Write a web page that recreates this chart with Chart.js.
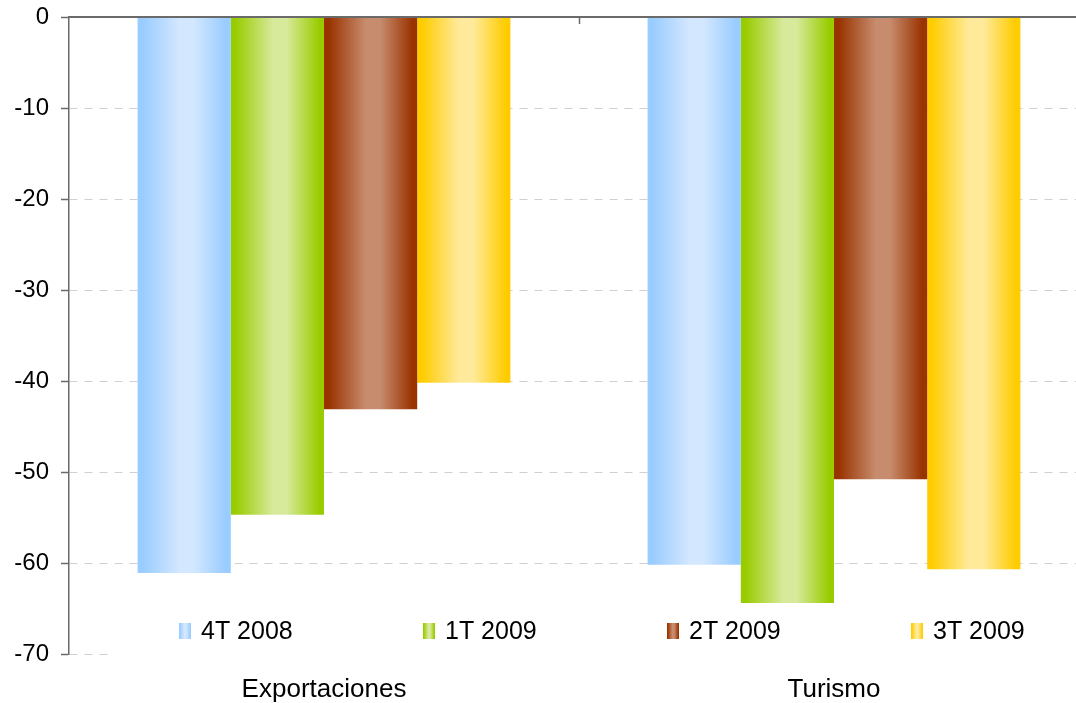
<!DOCTYPE html>
<html>
<head>
<meta charset="utf-8">
<script src="https://cdn.jsdelivr.net/npm/chart.js@4/dist/chart.umd.min.js"></script>
<style>
  html, body { margin: 0; padding: 0; background: #fff; overflow: hidden; width: 1076px; height: 703px; }
  #wrap { width: 1090px; height: 703px; position: relative; }
</style>
</head>
<body>
<div id="wrap"><canvas id="c"></canvas></div>
<script>
// Variación interanual (%) por trimestre
const categories = ['Exportaciones', 'Turismo'];
const seriesNames = ['4T 2008', '1T 2009', '2T 2009', '3T 2009'];
const q4_2008 = [-61.1, -60.2];
const q1_2009 = [-54.7, -64.4];
const q2_2009 = [-43.1, -50.8];
const q3_2009 = [-40.2, -60.7];
const yTicks = [0, -10, -20, -30, -40, -50, -60, -70];

const FONT = "'Liberation Sans', Arial, sans-serif";

// edge / highlight colours for the cylinder-like shading
const palettes = [
  { edge: '#99CCFF', light: '#D3E7FF' },
  { edge: '#99CC00', light: '#D7E99A' },
  { edge: '#993300', light: '#C78C6E' },
  { edge: '#FFCC00', light: '#FFEA9C' }
];

function shade(ctx, x0, x1, pal) {
  const g = ctx.createLinearGradient(x0, 0, x1, 0);
  g.addColorStop(0, pal.edge);
  g.addColorStop(0.05, pal.edge);
  g.addColorStop(0.45, pal.light);
  g.addColorStop(0.6, pal.light);
  g.addColorStop(0.95, pal.edge);
  g.addColorStop(1, pal.edge);
  return g;
}

const seriesValues = [q4_2008, q1_2009, q2_2009, q3_2009];

const datasets = seriesValues.map((vals, i) => ({
  label: seriesNames[i],
  data: vals,
  backgroundColor: palettes[i].edge,
  borderWidth: 0,
  categoryPercentage: 0.731,
  barPercentage: 1.0
}));

// gradient fill computed from each bar's own geometry
const shadingPlugin = {
  id: 'shading',
  beforeDatasetsDraw(chart) {
    const ctx = chart.ctx;
    const ca = chart.chartArea;
    const ys = chart.scales.y;
    // legend panel sits over the lower grid lines
    const panelTop = ys.getPixelForValue(-70) - 47;
    ctx.save();
    ctx.fillStyle = '#ffffff';
    ctx.fillRect(ca.left + 39, panelTop, chart.width - ca.left - 39, 56);
    ctx.restore();

    chart.data.datasets.forEach((ds, di) => {
      const meta = chart.getDatasetMeta(di);
      meta.data.forEach(el => {
        const x0 = el.x - el.width / 2;
        const x1 = el.x + el.width / 2;
        el.options = Object.assign({}, el.options, {
          backgroundColor: shade(ctx, x0, x1, palettes[di])
        });
      });
    });
  },
  afterDatasetsDraw(chart) {
    const ctx = chart.ctx;
    const ca = chart.chartArea;
    const xs = chart.scales.x;
    const ys = chart.scales.y;
    const y0 = ys.getPixelForValue(0);

    // zero line
    ctx.save();
    ctx.strokeStyle = '#6a6a6a';
    ctx.lineWidth = 2;
    ctx.beginPath();
    ctx.moveTo(ca.left, y0);
    ctx.lineTo(chart.width, y0);
    ctx.stroke();

    // category divider tick
    const xb = Math.round((xs.getPixelForTick(0) + xs.getPixelForTick(1)) / 2) + 0.5;
    ctx.lineWidth = 1.5;
    ctx.beginPath();
    ctx.moveTo(xb, y0);
    ctx.lineTo(xb, y0 + 7);
    ctx.stroke();

    // legend
    const ly = ys.getPixelForValue(-70) - 23;
    ctx.font = '25px ' + FONT;
    ctx.textBaseline = 'middle';
    seriesNames.forEach((name, i) => {
      const mx = ca.left + 110 + i * 244;
      ctx.fillStyle = shade(ctx, mx, mx + 12, palettes[i]);
      ctx.fillRect(mx, ly - 8, 12, 16);
      ctx.fillStyle = '#000';
      ctx.textAlign = 'left';
      ctx.fillText(name, mx + 22, ly + 1);
    });
    ctx.restore();
  }
};

new Chart(document.getElementById('c'), {
  type: 'bar',
  data: { labels: categories, datasets },
  options: {
    responsive: true,
    maintainAspectRatio: false,
    animation: false,
    layout: { padding: { top: 17, right: 1, left: 0, bottom: 0 } },
    plugins: {
      legend: { display: false },
      tooltip: { enabled: false }
    },
    scales: {
      x: {
        afterFit(s) { s.height = 49; s.paddingLeft = 0; s.paddingRight = 0; },
        grid: { display: false, drawTicks: false },
        border: { display: false },
        ticks: {
          color: '#000',
          font: { family: FONT, size: 26, lineHeight: 1 },
          padding: 23
        }
      },
      y: {
        min: -70,
        max: 0,
        afterBuildTicks(s) { s.ticks = yTicks.map(v => ({ value: v })); },
        afterFit(s) { s.width = 69; s.paddingTop = 0; s.paddingBottom = 0; },
        grid: {
          color: c => (c.tick && c.tick.value === 0) ? 'rgba(0,0,0,0)' : '#d0d0d0',
          lineWidth: 1,
          tickColor: '#6a6a6a',
          tickLength: 8,
          tickWidth: 1.5
        },
        border: { display: true, color: '#6a6a6a', width: 1.5, dash: [8, 7] },
        ticks: {
          color: '#000',
          font: { family: FONT, size: 24 },
          padding: 12
        }
      }
    }
  },
  plugins: [shadingPlugin]
});
</script>
</body>
</html>
